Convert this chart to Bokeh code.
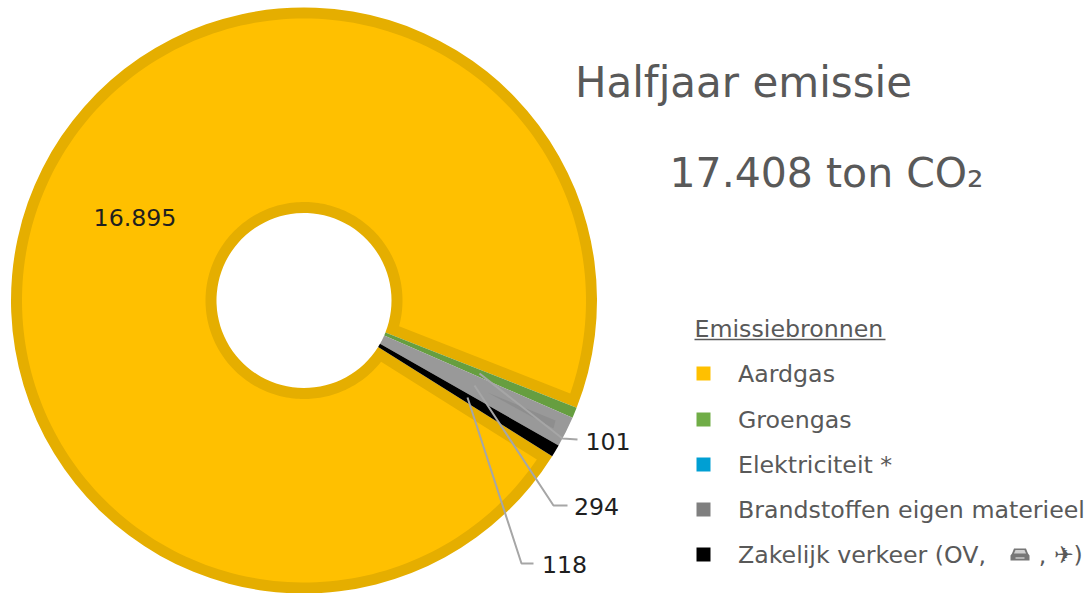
import math
from bokeh.plotting import figure
from bokeh.models import Range1d
from bokeh.core.properties import value
from bokeh.embed import file_html
from bokeh.resources import INLINE

categories = ["Aardgas", "Groengas", "Elektriciteit *", "Brandstoffen eigen materieel", "Zakelijk verkeer (OV,\u00a0\u00a0\u00a0\u00a0\u00a0\u00a0\u00a0, ✈)"]
values = [16895, 101, 0, 294, 118]
data_labels = ["16.895", "101", "", "294", "118"]
legend_colors = ["#FFC000", "#70AD47", "#009FD3", "#7F7F7F", "#000000"]
slice_colors = ["#FFC000", "#669E40", "#009FD3", "#999999", "#000000"]
title_lines = ["Halfjaar emissie", "17.408 ton CO₂"]
legend_title = "Emissiebronnen"

W, H = 1092, 593
def Y(y): return H - y

p = figure(width=W, height=H, output_backend="svg", toolbar_location=None,
           x_range=Range1d(0, W), y_range=Range1d(0, H),
           min_border=0, outline_line_color=None, background_fill_color="white")
p.axis.visible = False
p.grid.visible = False

FONT = value("DejaVu Sans")
cx, cy = 303.5, Y(300)
R, r = 293, 87.5
RING = 11
start_deg = -32.1
total = sum(values)

angles = []
a = start_deg
for v in values:
    b = a - v / total * 360
    angles.append((a, b))
    a = b

a0, a1 = angles[0]
p.annular_wedge([cx], [cy], inner_radius=r, outer_radius=R, start_angle=[math.radians(a1)],
                end_angle=[math.radians(a0)], fill_color="#E5AE00", line_color=None)

def inset_arc(rad, d):
    off = math.degrees(math.asin(d / rad))
    n = 240
    s, e = a0 - off, a1 + off
    return [(cx + rad * math.cos(math.radians(s + (e - s) * i / n)),
             cy + rad * math.sin(math.radians(s + (e - s) * i / n))) for i in range(n + 1)]
outer = inset_arc(R - RING, RING)
inner = inset_arc(r + RING, RING)[::-1]
pts = outer + inner
p.patch([q[0] for q in pts], [q[1] for q in pts], fill_color=slice_colors[0], line_color=None)

for (s, e), v, col in list(zip(angles, values, slice_colors))[1:]:
    if v == 0:
        continue
    p.annular_wedge([cx], [cy], inner_radius=r, outer_radius=R, start_angle=[math.radians(e)],
                    end_angle=[math.radians(s)], fill_color=col, line_color=None)

# faint darker sliver under the leader lines
p.patch([487, 555, 553], [Y(392), Y(420), Y(428)], fill_color="#8E8E8E", line_color=None)

leaders = [
    ([479, 562, 577], [373, 438, 439]),
    ([474, 553, 567], [385, 505, 505]),
    ([467, 521, 533], [397, 563, 563]),
]
for xs, ys in leaders:
    p.line(xs, [Y(y) for y in ys], line_color="#A6A6A6", line_width=2)

label_pos = [(134.5, 216.5), (607.5, 440.5), None, (596, 505.5), (564, 563.5)]
for lab, pos in zip(data_labels, label_pos):
    if pos:
        p.text([pos[0]], [Y(pos[1])], text=[lab], text_font=FONT, text_font_size="23.7px",
               text_color="#1F1F1F", text_align="center", text_baseline="middle")

p.text([743], [Y(82)], text=[title_lines[0]], text_font=FONT, text_font_size="42px",
       text_color="#595959", text_align="center", text_baseline="middle")
p.text([826], [Y(172)], text=[title_lines[1]], text_font=FONT, text_font_size="41px",
       text_color="#595959", text_align="center", text_baseline="middle")

p.text([694], [Y(328.5)], text=[legend_title], text_font=FONT, text_font_size="23.7px",
       text_color="#595959", text_align="left", text_baseline="middle")
p.line([694, 885], [Y(339), Y(339)], line_color="#595959", line_width=1.5)
rows = [373, 419, 464, 509, 554]
for c, col, y in zip(categories, legend_colors, rows):
    p.rect([703], [Y(y)], width=14, height=14, fill_color=col, line_color=None)
    p.text([737.5], [Y(y)], text=[c], text_font=FONT, text_font_size="23.7px",
           text_color="#595959", text_align="left", text_baseline="middle")

# small car icon in the last legend row
car_x, car_y = 1019.5, rows[-1]
p.patch([car_x - 9.5, car_x - 8, car_x - 6, car_x + 6, car_x + 8, car_x + 9.5, car_x + 9.5, car_x - 9.5],
        [Y(car_y + 1), Y(car_y - 1), Y(car_y - 6), Y(car_y - 6), Y(car_y - 1), Y(car_y + 1), Y(car_y + 6), Y(car_y + 6)],
        fill_color="#777777", line_color=None)
p.patch([car_x - 6, car_x - 4.5, car_x + 4.5, car_x + 6],
        [Y(car_y - 1), Y(car_y - 4.5), Y(car_y - 4.5), Y(car_y - 1)],
        fill_color="#D0D0D0", line_color=None)
p.rect([car_x], [Y(car_y + 3.5)], width=9, height=1.5, fill_color="#C8C8C8", line_color=None)

open("out.html", "w").write(file_html(p, INLINE))
